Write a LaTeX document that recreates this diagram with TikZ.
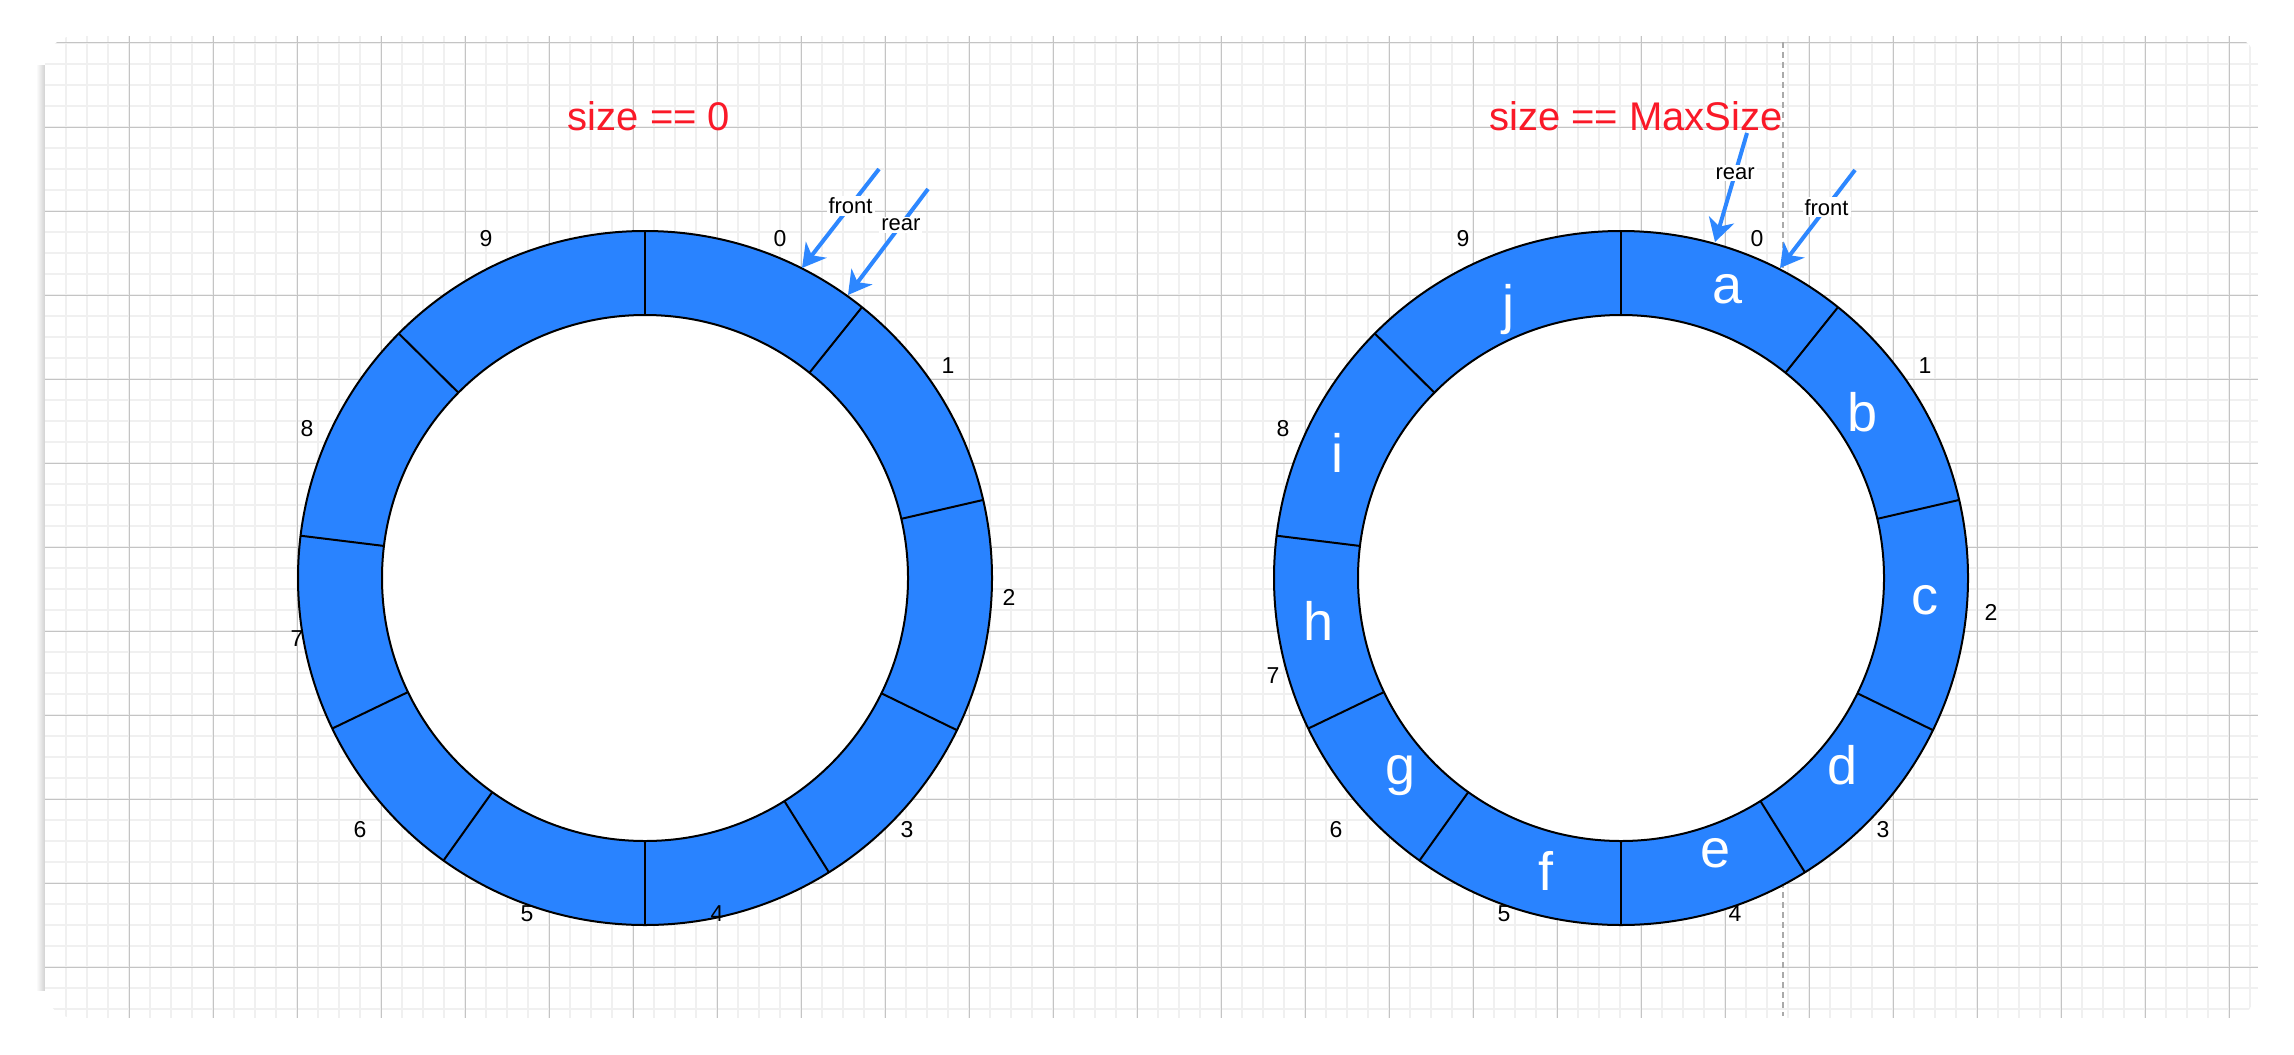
\documentclass[tikz,border=0pt]{standalone}
\usepackage{fontspec}
\setmainfont{Liberation Sans}
\usetikzlibrary{arrows.meta}
\definecolor{ringBlue}{RGB}{41,131,255}
\definecolor{ptrBlue}{RGB}{45,135,255}
\definecolor{titleRed}{RGB}{250,25,40}
\definecolor{gridMajor}{RGB}{196,196,196}
\definecolor{gridMinor}{RGB}{240,240,240}
\definecolor{guideGray}{RGB}{170,170,170}

\begin{document}
\begin{tikzpicture}[x=0.5pt, y=-0.5pt,
  ring/.style={fill=ringBlue, draw=black, line width=1pt},
  hole/.style={fill=white, draw=black, line width=1pt},
  spoke/.style={draw=black, line width=1pt},
  idx/.style={font=\fontsize{11.5}{13}\selectfont, inner sep=0pt},
  slot/.style={text=white, font=\fontsize{27}{30}\selectfont, inner sep=0pt},
  title/.style={text=titleRed, font=\fontsize{20}{24}\selectfont, anchor=base},
  ptr/.style={-{Stealth[length=11.5pt, width=13pt, inset=3.5pt]}, ptrBlue, line width=2pt},
  ptrlabel/.style={fill=white, text=black, inner sep=1pt, font=\fontsize{11}{12}\selectfont}
]
  \useasboundingbox (0,0) rectangle (2294,1054);

  % sheet with grid
  \shade[left color=white, right color=black!20] (36,66) rectangle (46,990);
  \fill[white, rounded corners=15pt] (45,36) rectangle (2258,1018);
  \begin{scope}
    \clip[rounded corners=15pt] (45,36) rectangle (2258,1018);
    \foreach \x in {66,87,...,2258} \draw[gridMinor, line width=0.75pt] (\x,36) -- (\x,1018);
    \foreach \y in {43,64,...,1018} \draw[gridMinor, line width=0.75pt] (45,\y) -- (2258,\y);
    \foreach \x in {129,213,...,2258} \draw[gridMajor, line width=0.5pt] (\x,36) -- (\x,1018);
    \foreach \y in {43,127,...,1018} \draw[gridMajor, line width=0.5pt] (45,\y) -- (2258,\y);
  \end{scope}
  \draw[guideGray, line width=1pt, dash pattern=on 3pt off 2pt] (1783,42) -- (1783,1016);

  % empty queue
  \node[title] (t0) at (649,131) {size == 0};
  \begin{scope}[shift={(645,578)}]
    \path[ring] (0,0) circle[radius=173.5pt];
    \path[hole] (0,0) circle[radius=131.5pt];
    \foreach \a in {90,51.3,13,-26,-58,-90,234.5,205.7,173,135.2}
      \draw[spoke] (\a:131.5pt) -- (\a:173.5pt);
  \end{scope}
  \foreach \n/\px/\py in {0/780/239, 1/948/366, 2/1009/597, 3/907/830, 4/717/914,
                          5/527/914, 6/360/830, 7/297/639, 8/307/429, 9/486/239}
    \node[idx] (la\n) at (\px,\py) {\n};

  \coordinate (fs0) at (879,169); \coordinate (ft0) at (802,268);
  \coordinate (rs0) at (928,189); \coordinate (rt0) at (848,295);
  \draw[ptr] (fs0) -- node[ptrlabel, pos=0.37] (fl0) {front} (ft0);
  \draw[ptr] (rs0) -- node[ptrlabel, pos=0.34] (rl0) {rear} (rt0);

  % full queue
  \node[title] (tmax) at (1636,130) {size == MaxSize};
  \begin{scope}[shift={(1621,578)}]
    \path[ring] (0,0) circle[radius=173.5pt];
    \path[hole] (0,0) circle[radius=131.5pt];
    \foreach \a in {90,51.3,13,-26,-58,-90,234.5,205.7,173,135.2}
      \draw[spoke] (\a:131.5pt) -- (\a:173.5pt);
  \end{scope}
  \foreach \n/\px/\py in {0/1757/239, 1/1925/366, 2/1991/612, 3/1883/830, 4/1735/914,
                          5/1504/914, 6/1336/830, 7/1273/676, 8/1283/429, 9/1463/239}
    \node[idx] (lb\n) at (\px,\py) {\n};
  \foreach \s/\px/\py in {a/1727/289, b/1862/412, c/1925/600, d/1842/765, e/1715/853,
                          f/1546/871, g/1400/776, h/1318/621, i/1337/453, j/1508/310}
    \node[slot] (s\s) at (\px,\py) {\s};

  \coordinate (rs1) at (1747,133); \coordinate (rt1) at (1715,242);
  \coordinate (fs1) at (1855,170); \coordinate (ft1) at (1780,268);
  \draw[ptr] (rs1) -- node[ptrlabel, pos=0.37] (rl1) {rear} (rt1);
  \draw[ptr] (fs1) -- node[ptrlabel, pos=0.38] (fl1) {front} (ft1);
\end{tikzpicture}
\end{document}
